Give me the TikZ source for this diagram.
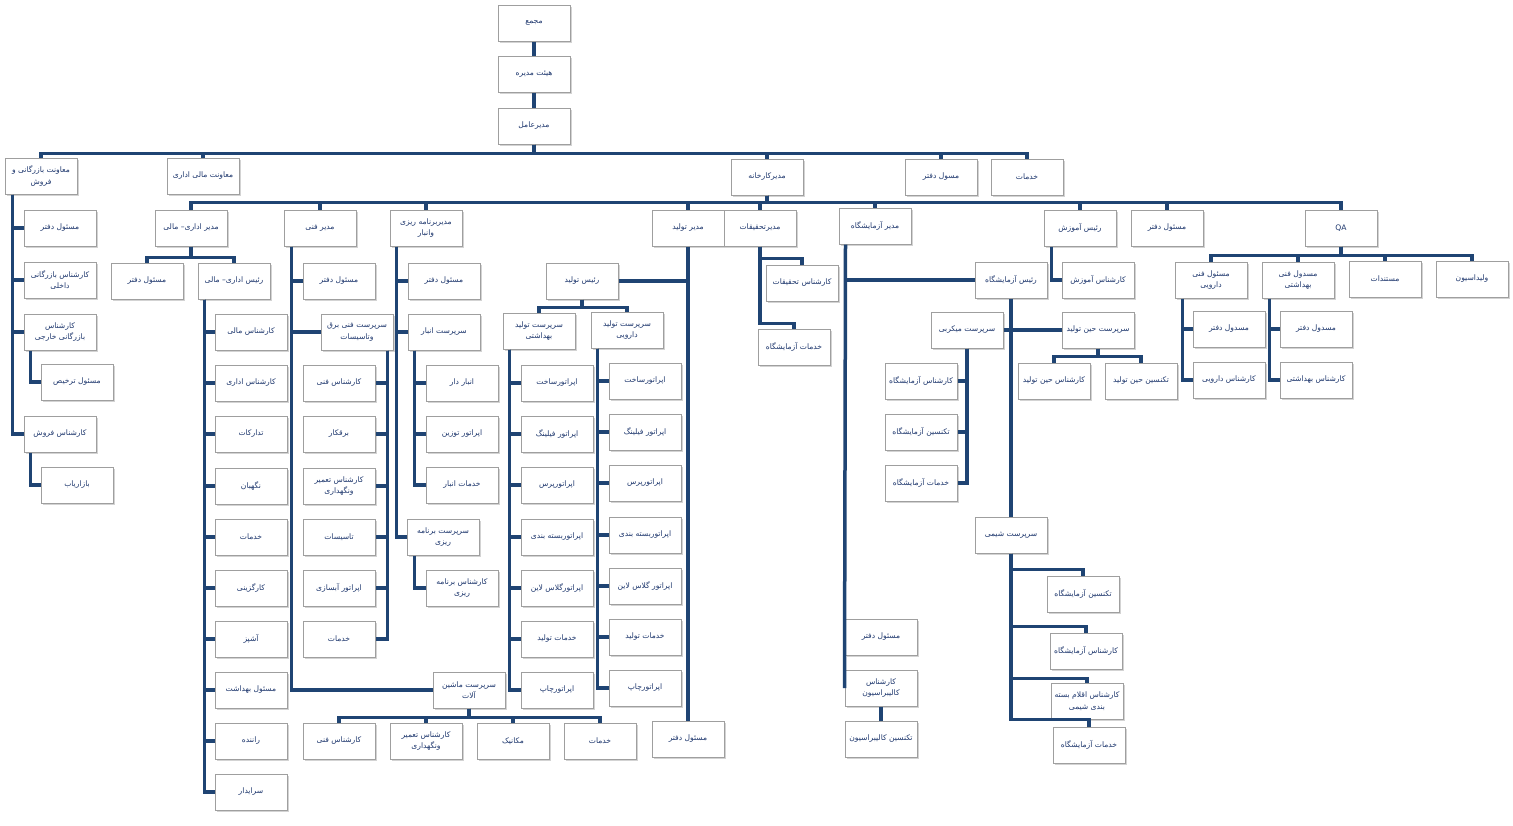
\documentclass[tikz,border=0pt]{standalone}
\usepackage{fontspec}
\newfontfamily\arabicfont[Script=Arabic]{DejaVu Sans}
\TeXXeTstate=1
\usetikzlibrary{shadows}
\definecolor{linkblue}{RGB}{31,68,115}
\definecolor{textblue}{RGB}{31,56,110}
\newcommand{\fa}[1]{\beginR #1\endR}
\begin{document}
\begin{tikzpicture}[x=1pt,y=-1pt,
  box/.style={draw=gray!75,line width=1pt,fill=white,minimum width=72pt,minimum height=36pt,inner sep=1pt,align=center,text=textblue,font=\arabicfont\fontsize{7.6}{11.5}\selectfont,drop shadow={shadow xshift=1.5pt,shadow yshift=-1.5pt,opacity=.35}},
  link/.style={draw=linkblue,line width=3.5pt}]
\useasboundingbox (0,0) rectangle (1513,825);

% top
\node[box] (majma) at (534,23) {\fa{مجمع}};
\node[box] (board) at (534,74) {\fa{هیئت مدیره}};
\node[box] (ceo) at (534,126) {\fa{مدیرعامل}};

% first level
\node[box] (vsales) at (41,176) {\fa{معاونت  بازرگانی و}\\\fa{فروش}};
\node[box] (vfin) at (203,176) {\fa{معاونت مالی اداری}};
\node[box] (plant) at (767,177) {\fa{مدیرکارخانه}};
\node[box] (ceoOffice) at (941,177) {\fa{مسول دفتر}};
\node[box] (ceoServ) at (1027,177) {\fa{خدمات}};

% sales
\node[box] (sOffice) at (60,228) {\fa{مسئول دفتر}};
\node[box] (sIn) at (60,280) {\fa{کارشناس بازرگانی}\\\fa{داخلی}};
\node[box] (sOut) at (60,332) {\fa{کارشناس}\\\fa{بازرگانی خارجی}};
\node[box] (sClear) at (77,382) {\fa{مسئول ترخیص}};
\node[box] (sSale) at (60,434) {\fa{کارشناس فروش}};
\node[box] (sMarket) at (77,485) {\fa{بازاریاب}};

% second level
\node[box] (adm) at (191,228) {\fa{مدیر اداری– مالی}};
\node[box] (tech) at (320,228) {\fa{مدیر فنی}};
\node[box] (plan) at (426,228) {\fa{مدیربرنامه ریزی}\\\fa{وانبار}};
\node[box] (prod) at (688,228) {\fa{مدیر تولید}};
\node[box] (rnd) at (760,228) {\fa{مدیرتحقیقات}};
\node[box] (lab) at (875,226) {\fa{مدیر آزمایشگاه}};
\node[box] (edu) at (1080,228) {\fa{رئیس آموزش}};
\node[box] (pOffice) at (1167,228) {\fa{مسئول دفتر}};
\node[box] (qa) at (1341,228) {QA};

% admin
\node[box] (admOffice) at (147,281) {\fa{مسئول دفتر}};
\node[box] (admHead) at (234,281) {\fa{رئیس اداری– مالی}};
\node[box] (a1) at (251,332) {\fa{کارشناس مالی}};
\node[box] (a2) at (251,383) {\fa{کارشناس اداری}};
\node[box] (a3) at (251,434) {\fa{تدارکات}};
\node[box] (a4) at (251,486) {\fa{نگهبان}};
\node[box] (a5) at (251,537) {\fa{خدمات}};
\node[box] (a6) at (251,588) {\fa{کارگزینی}};
\node[box] (a7) at (251,639) {\fa{آشپز}};
\node[box] (a8) at (251,690) {\fa{مسئول بهداشت}};
\node[box] (a9) at (251,741) {\fa{راننده}};
\node[box] (a10) at (251,792) {\fa{سرایدار}};

% technical
\node[box] (tOffice) at (339,281) {\fa{مسئول دفتر}};
\node[box] (tElec) at (357,332) {\fa{سرپرست فنی برق}\\\fa{وتاسیسات}};
\node[box] (e1) at (339,383) {\fa{کارشناس فنی}};
\node[box] (e2) at (339,434) {\fa{برقکار}};
\node[box] (e3) at (339,486) {\fa{کارشناس تعمیر}\\\fa{ونگهداری}};
\node[box] (e4) at (339,537) {\fa{تاسیسات}};
\node[box] (e5) at (339,588) {\fa{اپراتور آبسازی}};
\node[box] (e6) at (339,639) {\fa{خدمات}};
\node[box] (mach) at (469,690) {\fa{سرپرست ماشین}\\\fa{آلات}};
\node[box] (m1) at (339,741) {\fa{کارشناس فنی}};
\node[box] (m2) at (426,741) {\fa{کارشناس تعمیر}\\\fa{ونگهداری}};
\node[box] (m3) at (513,741) {\fa{مکانیک}};
\node[box] (m4) at (600,741) {\fa{خدمات}};

% planning and store
\node[box] (plOffice) at (444,281) {\fa{مسئول دفتر}};
\node[box] (plStore) at (444,332) {\fa{سرپرست انبار}};
\node[box] (w1) at (462,383) {\fa{انبار دار}};
\node[box] (w2) at (462,434) {\fa{اپراتور توزین}};
\node[box] (w3) at (462,485) {\fa{خدمات انبار}};
\node[box] (plPlan) at (443,537) {\fa{سرپرست برنامه}\\\fa{ریزی}};
\node[box] (w4) at (462,588) {\fa{کارشناس برنامه}\\\fa{ریزی}};

% production
\node[box] (pHead) at (582,281) {\fa{رئیس تولید}};
\node[box] (pSan) at (539,331) {\fa{سرپرست تولید}\\\fa{بهداشتی}};
\node[box] (pPh) at (627,330) {\fa{سرپرست تولید}\\\fa{دارویی}};
\node[box] (s1) at (557,383) {\fa{اپراتورساخت}};
\node[box] (s2) at (557,434) {\fa{اپراتور فیلینگ}};
\node[box] (s3) at (557,485) {\fa{اپراتورپرس}};
\node[box] (s4) at (557,537) {\fa{اپراتوربسته بندی}};
\node[box] (s5) at (557,588) {\fa{اپراتورگلاس  لاین}};
\node[box] (s6) at (557,639) {\fa{خدمات تولید}};
\node[box] (s7) at (557,690) {\fa{اپراتورچاپ}};
\node[box] (d1) at (645,381) {\fa{اپراتورساخت}};
\node[box] (d2) at (645,432) {\fa{اپراتور فیلینگ}};
\node[box] (d3) at (645,483) {\fa{اپراتورپرس}};
\node[box] (d4) at (645,535) {\fa{اپراتوربسته بندی}};
\node[box] (d5) at (645,586) {\fa{اپراتور گلاس لاین}};
\node[box] (d6) at (645,637) {\fa{خدمات تولید}};
\node[box] (d7) at (645,688) {\fa{اپراتورچاپ}};
\node[box] (pdOffice) at (688,739) {\fa{مسئول دفتر}};

% research
\node[box] (rExp) at (802,283) {\fa{کارشناس تحقیقات}};
\node[box] (rLab) at (794,347) {\fa{خدمات آزمایشگاه}};

% laboratory
\node[box] (labHead) at (1011,280) {\fa{رئیس آزمایشگاه}};
\node[box] (labMic) at (967,330) {\fa{سرپرست میکربی}};
\node[box] (labInp) at (1098,330) {\fa{سرپرست حین تولید}};
\node[box] (mi1) at (921,381) {\fa{کارشناس آزمایشگاه}};
\node[box] (mi2) at (921,432) {\fa{تکنسین آزمایشگاه}};
\node[box] (mi3) at (921,483) {\fa{خدمات آزمایشگاه}};
\node[box] (in1) at (1054,381) {\fa{کارشناس حین تولید}};
\node[box] (in2) at (1141,381) {\fa{تکنسین  حین تولید}};
\node[box] (labChem) at (1011,535) {\fa{سرپرست  شیمی}};
\node[box] (ch1) at (1083,594) {\fa{تکنسین آزمایشگاه}};
\node[box] (ch2) at (1086,651) {\fa{کارشناس آزمایشگاه}};
\node[box] (ch3) at (1087,701) {\fa{کارشناس اقلام بسته}\\\fa{بندی شیمی}};
\node[box] (ch4) at (1089,745) {\fa{خدمات آزمایشگاه}};
\node[box] (labOffice) at (881,637) {\fa{مسئول دفتر}};
\node[box] (labCal) at (881,688) {\fa{کارشناس}\\\fa{کالیبراسیون}};
\node[box] (labCalTech) at (881,739) {\fa{تکنسین کالیبراسیون}};

% training
\node[box] (eduExp) at (1098,280) {\fa{کارشناس آموزش}};

% QA
\node[box] (q1) at (1211,280) {\fa{مسئول فنی}\\\fa{دارویی}};
\node[box] (q2) at (1298,280) {\fa{مسدول فنی}\\\fa{بهداشتی}};
\node[box] (q3) at (1385,279) {\fa{مستندات}};
\node[box] (q4) at (1472,279) {\fa{ولیداسیون}};
\node[box] (q1a) at (1229,329) {\fa{مسدول دفتر}};
\node[box] (q1b) at (1229,380) {\fa{کارشناس دارویی}};
\node[box] (q2a) at (1316,329) {\fa{مسدول دفتر}};
\node[box] (q2b) at (1316,380) {\fa{کارشناس بهداشتی}};

% connectors
\path[link] (majma) -- (board);
\path[link] (board) -- (ceo);
\path[link] (ceo.south) -- ++(0,9) -| (vsales.north);
\path[link] (ceo.south) -- ++(0,9) -| (vfin.north);
\path[link] (ceo.south) -- ++(0,9) -| (plant.north);
\path[link] (ceo.south) -- ++(0,9) -| (ceoOffice.north);
\path[link] (ceo.south) -- ++(0,9) -| (ceoServ.north);

\path[link] ([xshift=8pt]vsales.south west) |- (sOffice.west);
\path[link] ([xshift=8pt]vsales.south west) |- (sIn.west);
\path[link] ([xshift=8pt]vsales.south west) |- (sOut.west);
\path[link] ([xshift=8pt]vsales.south west) |- (sSale.west);
\path[link] ([xshift=7pt]sOut.south west) |- (sClear.west);
\path[link] ([xshift=7pt]sSale.south west) |- (sMarket.west);

\path[link] (plant.south) -- ++(0,7) -| (adm.north);
\path[link] (plant.south) -- ++(0,7) -| (tech.north);
\path[link] (plant.south) -- ++(0,7) -| (plan.north);
\path[link] (plant.south) -- ++(0,7) -| (prod.north);
\path[link] (plant.south) -- ++(0,7) -| (rnd.north);
\path[link] (plant.south) -- ++(0,7) -| (lab.north);
\path[link] (plant.south) -- ++(0,7) -| (edu.north);
\path[link] (plant.south) -- ++(0,7) -| (pOffice.north);
\path[link] (plant.south) -- ++(0,7) -| (qa.north);

\path[link] (adm.south) -- ++(0,11) -| (admOffice.north);
\path[link] (adm.south) -- ++(0,11) -| (admHead.north);
\path[link] ([xshift=7pt]admHead.south west) |- (a1.west);
\path[link] ([xshift=7pt]admHead.south west) |- (a2.west);
\path[link] ([xshift=7pt]admHead.south west) |- (a3.west);
\path[link] ([xshift=7pt]admHead.south west) |- (a4.west);
\path[link] ([xshift=7pt]admHead.south west) |- (a5.west);
\path[link] ([xshift=7pt]admHead.south west) |- (a6.west);
\path[link] ([xshift=7pt]admHead.south west) |- (a7.west);
\path[link] ([xshift=7pt]admHead.south west) |- (a8.west);
\path[link] ([xshift=7pt]admHead.south west) |- (a9.west);
\path[link] ([xshift=7pt]admHead.south west) |- (a10.west);

\path[link] ([xshift=8pt]tech.south west) |- (tOffice.west);
\path[link] ([xshift=8pt]tech.south west) |- (tElec.west);
\path[link] ([xshift=8pt]tech.south west) |- (mach.west);
\path[link] ([xshift=-6pt]tElec.south east) |- (e1.east);
\path[link] ([xshift=-6pt]tElec.south east) |- (e2.east);
\path[link] ([xshift=-6pt]tElec.south east) |- (e3.east);
\path[link] ([xshift=-6pt]tElec.south east) |- (e4.east);
\path[link] ([xshift=-6pt]tElec.south east) |- (e5.east);
\path[link] ([xshift=-6pt]tElec.south east) |- (e6.east);
\path[link] (mach.south) -- ++(0,9) -| (m1.north);
\path[link] (mach.south) -- ++(0,9) -| (m2.north);
\path[link] (mach.south) -- ++(0,9) -| (m3.north);
\path[link] (mach.south) -- ++(0,9) -| (m4.north);

\path[link] ([xshift=7pt]plan.south west) |- (plOffice.west);
\path[link] ([xshift=7pt]plan.south west) |- (plStore.west);
\path[link] ([xshift=7pt]plan.south west) |- (plPlan.west);
\path[link] ([xshift=7pt]plStore.south west) |- (w1.west);
\path[link] ([xshift=7pt]plStore.south west) |- (w2.west);
\path[link] ([xshift=7pt]plStore.south west) |- (w3.west);
\path[link] ([xshift=8pt]plPlan.south west) |- (w4.west);

\path[link] (prod.south) -- (pdOffice.north);
\path[link] (pHead.east) -- (pHead.east -| prod.south);
\path[link] (pHead.south) -- ++(0,8) -| (pSan.north);
\path[link] (pHead.south) -- ++(0,8) -| (pPh.north);
\path[link] ([xshift=7pt]pSan.south west) |- (s1.west);
\path[link] ([xshift=7pt]pSan.south west) |- (s2.west);
\path[link] ([xshift=7pt]pSan.south west) |- (s3.west);
\path[link] ([xshift=7pt]pSan.south west) |- (s4.west);
\path[link] ([xshift=7pt]pSan.south west) |- (s5.west);
\path[link] ([xshift=7pt]pSan.south west) |- (s6.west);
\path[link] ([xshift=7pt]pSan.south west) |- (s7.west);
\path[link] ([xshift=7pt]pPh.south west) |- (d1.west);
\path[link] ([xshift=7pt]pPh.south west) |- (d2.west);
\path[link] ([xshift=7pt]pPh.south west) |- (d3.west);
\path[link] ([xshift=7pt]pPh.south west) |- (d4.west);
\path[link] ([xshift=7pt]pPh.south west) |- (d5.west);
\path[link] ([xshift=7pt]pPh.south west) |- (d6.west);
\path[link] ([xshift=7pt]pPh.south west) |- (d7.west);

\path[link] (rnd.south) -- ++(0,12) -| (rExp.north);
\path[link] (rnd.south) -- ++(0,77) -| (rLab.north);

\path[link] ([xshift=7pt]lab.south west) |- (labHead.west);
\path[link] ([xshift=7pt]lab.south west) -- (labCal.west);
\path[link] (labCal.south) -- (labCalTech.north);
\path[link] (labHead.south) -- (labChem.north);
\path[link] (labMic.east) -- (labInp.west);
\path[link] (labMic.south) |- (mi1.east);
\path[link] (labMic.south) |- (mi2.east);
\path[link] (labMic.south) |- (mi3.east);
\path[link] (labInp.south) -- ++(0,8) -| (in1.north);
\path[link] (labInp.south) -- ++(0,8) -| (in2.north);
\path[link] (labChem.south) -- ++(0,16) -| (ch1.north);
\path[link] (labChem.south) -- ++(0,73) -| (ch2.north);
\path[link] (labChem.south) -- ++(0,125) -| (ch3.north);
\path[link] (labChem.south) -- ++(0,166) -| (ch4.north);

\path[link] ([xshift=8pt]edu.south west) |- (eduExp.west);

\path[link] (qa.south) -- ++(0,9) -| (q1.north);
\path[link] (qa.south) -- ++(0,9) -| (q2.north);
\path[link] (qa.south) -- ++(0,9) -| (q3.north);
\path[link] (qa.south) -- ++(0,9) -| (q4.north);
\path[link] ([xshift=8pt]q1.south west) |- (q1a.west);
\path[link] ([xshift=8pt]q1.south west) |- (q1b.west);
\path[link] ([xshift=8pt]q2.south west) |- (q2a.west);
\path[link] ([xshift=8pt]q2.south west) |- (q2b.west);
\end{tikzpicture}
\end{document}
